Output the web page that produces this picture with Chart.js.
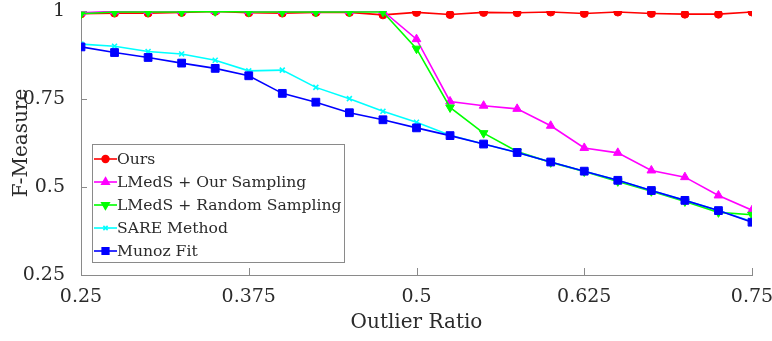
<!DOCTYPE html>
<html>
<head>
<meta charset="utf-8">
<script src="https://cdn.jsdelivr.net/npm/chart.js@4/dist/chart.umd.min.js"></script>
<style>
  html, body { margin: 0; padding: 0; background: #fff; }
  #wrap { width: 772px; height: 341px; position: relative; }
</style>
</head>
<body>
<div id="wrap"><canvas id="fmeasure-chart"></canvas></div>
<script>
// Outlier ratios on the x axis
const ratios = [0.25, 0.275, 0.3, 0.325, 0.35, 0.375, 0.4, 0.425, 0.45, 0.475, 0.5,
                0.525, 0.55, 0.575, 0.6, 0.625, 0.65, 0.675, 0.7, 0.725, 0.75];

// F-measure per method
const ours = [0.992, 0.994, 0.994, 0.996, 0.999, 0.995, 0.994, 0.996, 0.996, 0.989, 0.996,
              0.990, 0.996, 0.995, 0.997, 0.993, 0.997, 0.993, 0.991, 0.991, 0.997];
const lmedsOurSampling = [0.995, 0.999, 1.0, 1.0, 1.0, 1.0, 1.0, 1.0, 1.0, 1.0, 0.920,
                          0.743, 0.731, 0.722, 0.674, 0.611, 0.597, 0.547, 0.528, 0.476, 0.434];
const lmedsRandomSampling = [0.992, 0.997, 0.997, 0.997, 0.999, 0.997, 0.997, 0.997, 0.997, 0.997, 0.893,
                             0.726, 0.653, 0.601, 0.570, 0.544, 0.516, 0.488, 0.459, 0.428, 0.421];
const sareMethod = [0.906, 0.900, 0.885, 0.878, 0.860, 0.830, 0.832, 0.783, 0.751, 0.715, 0.684,
                    0.647, 0.622, 0.598, 0.571, 0.545, 0.519, 0.490, 0.462, 0.433, 0.402];
const munozFit = [0.898, 0.882, 0.868, 0.852, 0.837, 0.816, 0.766, 0.741, 0.711, 0.691, 0.668,
                  0.646, 0.622, 0.598, 0.571, 0.545, 0.519, 0.490, 0.462, 0.433, 0.400];

const seriesNames = ['Ours', 'LMedS + Our Sampling', 'LMedS + Random Sampling', 'SARE Method', 'Munoz Fit'];

// Tick positions
const xTicks = [0.25, 0.375, 0.5, 0.625, 0.75];
const yTicks = [0.25, 0.5, 0.75, 1];

const FONT = '"DejaVu Serif", serif';
const AXIS_GREY = '#8a8a8a';
const TEXT = '#2b2b2b';

function toPoints(values) {
    return values.map((v, i) => ({ x: ratios[i], y: v }));
}

// style per series: colour, marker, marker size, rotation
const styles = [
    { color: '#ff0000', point: 'circle',   radius: 4,   rotation: 0 },
    { color: '#ff00ff', point: 'triangle', radius: 5,   rotation: 0 },
    { color: '#00ff00', point: 'triangle', radius: 5,   rotation: 180 },
    { color: '#00ffff', point: 'crossRot', radius: 3.5, rotation: 0 },
    { color: '#0000ff', point: 'rect',     radius: 5.5, rotation: 0 }
];
const seriesValues = [ours, lmedsOurSampling, lmedsRandomSampling, sareMethod, munozFit];

const datasets = seriesValues.map((vals, i) => ({
    label: seriesNames[i],
    data: toPoints(vals),
    borderColor: styles[i].color,
    backgroundColor: styles[i].color,
    borderWidth: 1.6,
    pointStyle: styles[i].point,
    pointRadius: styles[i].radius,
    pointRotation: styles[i].rotation,
    pointBorderWidth: styles[i].point === 'crossRot' ? 1.6 : 1,
    pointBackgroundColor: styles[i].color,
    pointBorderColor: styles[i].color,
    tension: 0,
    order: seriesValues.length - i // later series on top
}));

// inward tick marks on both axes
const innerTicks = {
    id: 'innerTicks',
    afterDraw(chart) {
        const { ctx, scales: { x, y } } = chart;
        ctx.save();
        ctx.strokeStyle = AXIS_GREY;
        ctx.lineWidth = 1;
        ctx.beginPath();
        xTicks.forEach(v => {
            const px = Math.round(x.getPixelForValue(v)) + 0.5;
            ctx.moveTo(px, y.bottom);
            ctx.lineTo(px, y.bottom - 7);
        });
        yTicks.forEach(v => {
            const py = Math.round(y.getPixelForValue(v)) + 0.5;
            ctx.moveTo(x.left, py);
            ctx.lineTo(x.left + 6, py);
        });
        ctx.stroke();
        ctx.restore();
    }
};

// boxed legend inside the plot area, lower left
const boxLegend = {
    id: 'boxLegend',
    afterDraw(chart) {
        const { ctx } = chart;
        const left = 92, top = 144, width = 252, height = 118;
        const rowH = 23, firstRow = 159;
        ctx.save();
        ctx.fillStyle = '#fff';
        ctx.fillRect(left, top, width, height);
        ctx.strokeStyle = AXIS_GREY;
        ctx.lineWidth = 1;
        ctx.strokeRect(left + 0.5, top + 0.5, width, height);
        ctx.font = '15.6px ' + FONT;
        ctx.textBaseline = 'middle';
        chart.data.datasets.forEach((ds, i) => {
            const cy = firstRow + i * rowH;
            ctx.strokeStyle = ds.borderColor;
            ctx.lineWidth = 1.6;
            ctx.beginPath();
            ctx.moveTo(left + 2, cy);
            ctx.lineTo(left + 25, cy);
            ctx.stroke();
            ctx.fillStyle = ds.backgroundColor;
            Chart.helpers.drawPoint(ctx, {
                pointStyle: ds.pointStyle,
                radius: ds.pointRadius * 0.85,
                rotation: ds.pointRotation,
                borderWidth: ds.pointBorderWidth
            }, left + 13.5, cy);
            ctx.fillStyle = TEXT;
            ctx.fillText(ds.label, left + 25, cy + 1);
        });
        ctx.restore();
    }
};

const config = {
    type: 'line',
    data: { datasets },
    options: {
        responsive: true,
        maintainAspectRatio: false,
        animation: false,
        layout: { padding: { top: 11, right: 20, left: 0, bottom: 0 } },
        plugins: {
            legend: { display: false },
            tooltip: { enabled: false }
        },
        scales: {
            x: {
                type: 'linear',
                min: 0.25,
                max: 0.75,
                afterBuildTicks: scale => { scale.ticks = xTicks.map(v => ({ value: v })); },
                afterFit: scale => {
                    scale.height = 66;
                    scale.paddingLeft = 0;
                    scale.paddingRight = 0;
                },
                grid: { display: false },
                border: { display: true, color: AXIS_GREY, width: 1 },
                ticks: {
                    color: TEXT,
                    font: { family: FONT, size: 19 },
                    padding: 3,
                    maxRotation: 0,
                    callback: v => String(v)
                },
                title: {
                    display: true,
                    text: 'Outlier Ratio',
                    color: TEXT,
                    font: { family: FONT, size: 20 },
                    padding: { top: 0, bottom: 6 }
                }
            },
            y: {
                min: 0.25,
                max: 1,
                afterBuildTicks: scale => { scale.ticks = yTicks.map(v => ({ value: v })); },
                afterFit: scale => {
                    scale.width = 81;
                    scale.paddingTop = 0;
                    scale.paddingBottom = 0;
                },
                grid: { display: false },
                border: { display: true, color: AXIS_GREY, width: 1 },
                ticks: {
                    color: TEXT,
                    font: { family: FONT, size: 19 },
                    padding: 8,
                    callback: v => String(v)
                },
                title: {
                    display: true,
                    text: 'F-Measure',
                    color: TEXT,
                    font: { family: FONT, size: 20 },
                    padding: { top: 10, bottom: 0 }
                }
            }
        }
    },
    plugins: [innerTicks, boxLegend]
};

const ctx = document.getElementById('fmeasure-chart').getContext('2d');
new Chart(ctx, config);
</script>
</body>
</html>
